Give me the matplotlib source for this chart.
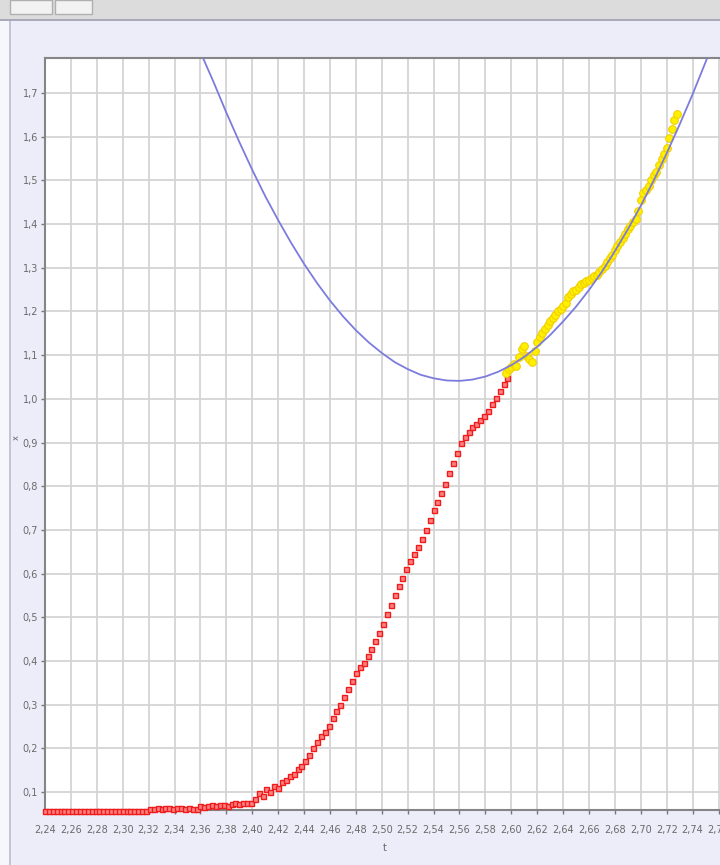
import matplotlib
matplotlib.use('Agg')
import matplotlib.pyplot as plt
from matplotlib.patches import Rectangle
from matplotlib.ticker import MultipleLocator, FuncFormatter

# measured series (t, x)
t_red = [2.240, 2.243, 2.246, 2.249, 2.252, 2.255, 2.258, 2.261, 2.264, 2.267,
         2.270, 2.273, 2.276, 2.279, 2.282, 2.285, 2.288, 2.291, 2.294, 2.297,
         2.300, 2.303, 2.306, 2.309, 2.312, 2.315, 2.318, 2.321, 2.324, 2.327,
         2.330, 2.333, 2.336, 2.339, 2.342, 2.345, 2.348, 2.351, 2.354, 2.357,
         2.360, 2.363, 2.366, 2.369, 2.372, 2.375, 2.378, 2.381, 2.384, 2.387,
         2.390, 2.393, 2.396, 2.399, 2.402, 2.405, 2.408, 2.411, 2.414, 2.417,
         2.420, 2.423, 2.426, 2.429, 2.432, 2.435, 2.438, 2.441, 2.444, 2.447,
         2.450, 2.453, 2.456, 2.459, 2.462, 2.465, 2.468, 2.471, 2.474, 2.477,
         2.480, 2.483, 2.486, 2.489, 2.492, 2.495, 2.498, 2.501, 2.504, 2.507,
         2.510, 2.513, 2.516, 2.519, 2.522, 2.525, 2.528, 2.531, 2.534, 2.537,
         2.540, 2.543, 2.546, 2.549, 2.552, 2.555, 2.558, 2.561, 2.564, 2.567,
         2.570, 2.573, 2.576, 2.579, 2.582, 2.585, 2.588, 2.591, 2.594, 2.597]
x_red = [0.057, 0.057, 0.057, 0.057, 0.057, 0.057, 0.057, 0.057, 0.057, 0.057,
         0.057, 0.057, 0.057, 0.057, 0.057, 0.057, 0.057, 0.057, 0.057, 0.057,
         0.057, 0.057, 0.057, 0.057, 0.057, 0.057, 0.057, 0.061, 0.062, 0.063,
         0.062, 0.064, 0.063, 0.062, 0.063, 0.064, 0.062, 0.063, 0.062, 0.061,
         0.068, 0.066, 0.069, 0.070, 0.068, 0.071, 0.070, 0.069, 0.072, 0.074,
         0.073, 0.075, 0.074, 0.076, 0.084, 0.097, 0.090, 0.106, 0.100, 0.115,
         0.110, 0.122, 0.128, 0.136, 0.142, 0.152, 0.160, 0.172, 0.185, 0.200,
         0.215, 0.228, 0.238, 0.252, 0.270, 0.286, 0.300, 0.318, 0.336, 0.355,
         0.372, 0.386, 0.396, 0.412, 0.428, 0.445, 0.465, 0.485, 0.508, 0.528,
         0.550, 0.572, 0.590, 0.610, 0.628, 0.645, 0.660, 0.680, 0.700, 0.722,
         0.745, 0.765, 0.785, 0.805, 0.830, 0.852, 0.875, 0.898, 0.912, 0.925,
         0.935, 0.942, 0.952, 0.960, 0.972, 0.988, 1.002, 1.018, 1.035, 1.048]

t_yel = [2.596, 2.598, 2.600, 2.602, 2.604, 2.606, 2.608, 2.610, 2.612, 2.614,
         2.616, 2.618, 2.620, 2.622, 2.624, 2.626, 2.628, 2.630, 2.632, 2.634,
         2.636, 2.638, 2.640, 2.642, 2.644, 2.646, 2.648, 2.650, 2.652, 2.654,
         2.656, 2.658, 2.660, 2.662, 2.664, 2.666, 2.668, 2.670, 2.672, 2.674,
         2.676, 2.678, 2.680, 2.682, 2.684, 2.686, 2.688, 2.690, 2.692, 2.694,
         2.696, 2.698, 2.700, 2.702, 2.704, 2.706, 2.708, 2.710, 2.712, 2.714,
         2.716, 2.718, 2.720, 2.722, 2.724, 2.726, 2.728]
x_yel = [1.060, 1.068, 1.072, 1.080, 1.076, 1.095, 1.115, 1.120, 1.098, 1.090,
         1.085, 1.110, 1.130, 1.142, 1.150, 1.160, 1.168, 1.178, 1.185, 1.192,
         1.200, 1.206, 1.212, 1.220, 1.232, 1.240, 1.246, 1.250, 1.255, 1.262,
         1.266, 1.270, 1.272, 1.276, 1.280, 1.284, 1.290, 1.296, 1.305, 1.314,
         1.322, 1.330, 1.340, 1.350, 1.360, 1.368, 1.378, 1.388, 1.395, 1.405,
         1.412, 1.430, 1.455, 1.470, 1.478, 1.488, 1.500, 1.512, 1.520, 1.535,
         1.548, 1.560, 1.575, 1.598, 1.618, 1.638, 1.652]

# fitted curve
t_fit = [2.362, 2.370, 2.380, 2.390, 2.400, 2.410, 2.420, 2.430, 2.440, 2.450,
         2.460, 2.470, 2.480, 2.490, 2.500, 2.510, 2.520, 2.530, 2.540, 2.550,
         2.560, 2.570, 2.580, 2.590, 2.600, 2.610, 2.620, 2.630, 2.640, 2.650,
         2.660, 2.670, 2.680, 2.690, 2.700, 2.710, 2.720, 2.730, 2.740, 2.751]
x_fit = [1.780, 1.726, 1.655, 1.588, 1.524, 1.464, 1.409, 1.357, 1.309, 1.265,
         1.225, 1.189, 1.157, 1.129, 1.105, 1.084, 1.068, 1.055, 1.047, 1.042,
         1.041, 1.044, 1.051, 1.062, 1.077, 1.096, 1.119, 1.146, 1.177, 1.211,
         1.249, 1.291, 1.338, 1.388, 1.442, 1.500, 1.562, 1.628, 1.697, 1.778]

W, H = 720, 865
fig = plt.figure(figsize=(W / 100, H / 100), dpi=100)
fig.patch.set_facecolor('#ededfa')


def box(x0, y0, x1, y1, **kw):
    # rectangle in pixel coords (origin top-left)
    r = Rectangle((x0 / W, 1 - y1 / H), (x1 - x0) / W, (y1 - y0) / H,
                  transform=fig.transFigure, **kw)
    fig.patches.append(r)


# window chrome
box(0, 0, 9, H, facecolor='#f6f6fd', edgecolor='none')
box(9, 0, 11, H, facecolor='#c4c4d4', edgecolor='none')
box(0, 0, W, 20, facecolor='#dcdcdc', edgecolor='none')
box(0, 19, W, 21, facecolor='#a9a9b9', edgecolor='none')
box(10, 0, 52, 14, facecolor='#f2f2f2', edgecolor='#b0b0b0', linewidth=1)
box(55, 0, 92, 14, facecolor='#f2f2f2', edgecolor='#b0b0b0', linewidth=1)

ax = fig.add_axes([45 / W, 1 - 810 / H, 680 / W, 752 / H])
ax.set_facecolor('white')

ax.set_xlim(2.24, 2.765)
ax.set_ylim(0.059, 1.78)
ax.xaxis.set_major_locator(MultipleLocator(0.02))
ax.yaxis.set_major_locator(MultipleLocator(0.1))
ax.xaxis.set_major_formatter(FuncFormatter(lambda v, p: f'{v:.2f}'.replace('.', ',')))
ax.yaxis.set_major_formatter(FuncFormatter(lambda v, p: f'{v:.1f}'.replace('.', ',')))
ax.grid(True, color='#d4d4d4', linewidth=1.3)
ax.set_axisbelow(True)

for side in ['left', 'bottom', 'top']:
    ax.spines[side].set_color('#858585')
    ax.spines[side].set_linewidth(1.5)
ax.spines['right'].set_visible(False)

ax.tick_params(axis='both', length=3, width=1, color='#777777',
               labelcolor='#6a6a6a', labelsize=7)
ax.tick_params(axis='x', pad=8)
ax.tick_params(axis='y', pad=2)

ax.plot(t_red, x_red, linestyle='none', marker='s', markersize=3.6,
        markerfacecolor='#ff8080', markeredgecolor='#ee1c1c',
        markeredgewidth=1, clip_on=False, zorder=3)
ax.plot(t_yel, x_yel, linestyle='none', marker='o', markersize=5.5,
        markerfacecolor='#fff000', markeredgecolor='#f2cf00',
        markeredgewidth=0.8, zorder=4)
ax.plot(t_fit, x_fit, color='#7c7cde', linewidth=1.3, zorder=5)

fig.text(385 / W, 1 - 848 / H, 't', ha='center', va='center',
         fontsize=7, color='#666666')
fig.text(16 / W, 1 - 438 / H, 'x', ha='center', va='center',
         fontsize=6, color='#666666', rotation=90)

fig.savefig('out.png', dpi=100, facecolor=fig.get_facecolor())
